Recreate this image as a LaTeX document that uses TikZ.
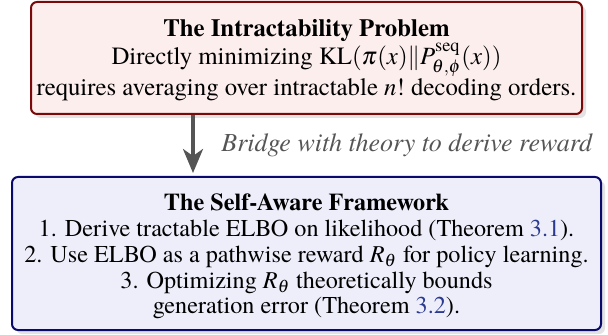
\documentclass[tikz,border=0pt]{standalone}
\usepackage{mathptmx}
\usepackage[no-math]{fontspec}
\setmainfont{texgyretermes}[Extension=.otf, UprightFont=*-regular, BoldFont=*-bold, ItalicFont=*-italic, BoldItalicFont=*-bolditalic]
\usetikzlibrary{shadows,arrows.meta}
\definecolor{probborder}{HTML}{7A0A0A}
\definecolor{probfill}{HTML}{FDEEEE}
\definecolor{fwborder}{HTML}{0A0A6E}
\definecolor{fwfill}{HTML}{EEEEFB}
\definecolor{refblue}{HTML}{2B3A8F}
\definecolor{arrowgray}{HTML}{555555}
\begin{document}
\begin{tikzpicture}[x=0.5pt,y=-0.5pt,
  box/.style={rounded corners=3pt, line width=1pt, inner sep=0pt,
    drop shadow={shadow xshift=2pt, shadow yshift=-2pt, fill=black!22}},
  boxtext/.style={align=center, inner sep=0pt},
  arr/.style={draw=arrowgray, line width=1.75pt, -{Stealth[length=12pt,width=10pt,inset=3.5pt]}, shorten >=1.5pt},
  lbl/.style={text=arrowgray, font=\fontsize{13}{14}\selectfont\itshape, inner sep=0pt}]
\useasboundingbox (0,0) rectangle (608,335);
\node[box, draw=probborder, fill=probfill, minimum width=275.5pt, minimum height=56pt] (prob) at (306.5,58) {};
\node[boxtext, font=\fontsize{12.4}{14}\selectfont] (probtext) at (306.5,60)
  {\textbf{The Intractability Problem}\\
   Directly minimizing $\mathrm{KL}(\pi(x)\|P^{\mathrm{seq}}_{\theta,\phi}(x))$\\
   requires averaging over intractable $n!$ decoding orders.};
\node[box, draw=fwborder, fill=fwfill, minimum width=294.5pt, minimum height=76.5pt] (fw) at (306.5,253.5) {};
\node[boxtext, font=\fontsize{12.1}{12.9}\selectfont] (fwtext) at (306.5,256.5)
  {\textbf{The Self-Aware Framework}\\
   1. Derive tractable ELBO on likelihood (Theorem \textcolor{refblue}{3.1}).\\
   2. Use ELBO as a pathwise reward $R_\theta$ for policy learning.\\
   3. Optimizing $R_\theta$ theoretically bounds\\
   generation error (Theorem \textcolor{refblue}{3.2}).};
\coordinate (ax) at (193,0);
\draw[arr] (prob.south -| ax) -- (fw.north -| ax);
\node[lbl, anchor=west] (bridge) at (221,145) {Bridge with theory to derive reward};
\end{tikzpicture}
\end{document}
